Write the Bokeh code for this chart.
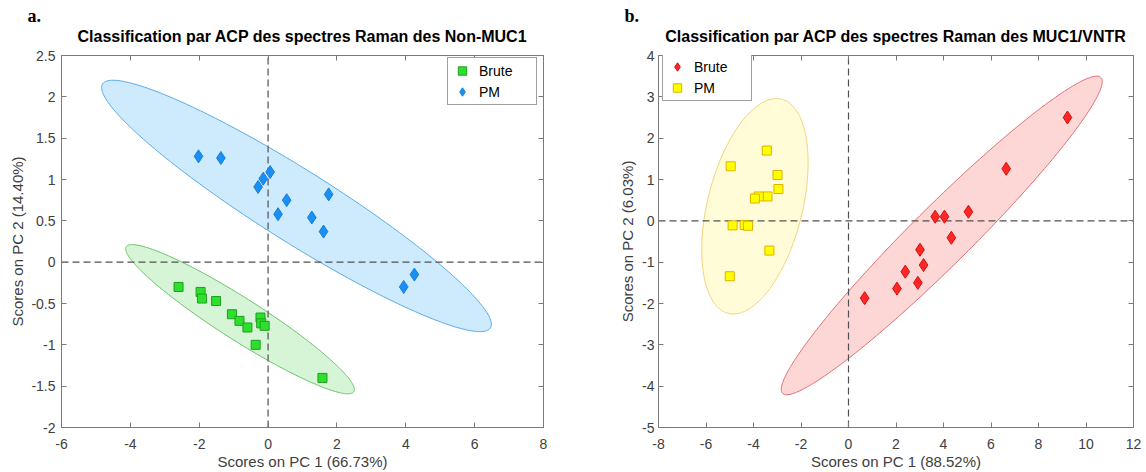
import numpy as np
from bokeh.plotting import figure
from bokeh.models import (Range1d, FixedTicker, LinearAxis, Legend, LegendItem, Title,
                          CustomLabelingPolicy)
from bokeh.layouts import row
from bokeh.embed import file_html
from bokeh.resources import INLINE

# ---------------- data : panel a (Non-MUC1) ----------------
a_brute_x = [-2.60, -1.96, -1.92, -1.51, -1.05, -0.83, -0.60, -0.22, -0.20, -0.10, -0.36, 1.58]
a_brute_y = [-0.30, -0.36, -0.44, -0.47, -0.63, -0.71, -0.79, -0.67, -0.74, -0.77, -1.00, -1.40]
a_pm_x = [-2.02, -1.37, 0.06, -0.14, -0.29, 0.54, 1.76, 0.29, 1.27, 1.61, 4.25, 3.94]
a_pm_y = [1.28, 1.26, 1.09, 1.01, 0.91, 0.75, 0.82, 0.58, 0.54, 0.37, -0.15, -0.30]

# ---------------- data : panel b (MUC1/VNTR) ----------------
b_brute_x = [9.22, 6.64, 5.05, 3.65, 4.04, 4.33, 3.01, 3.16, 2.39, 2.92, 2.04, 0.68]
b_brute_y = [2.50, 1.26, 0.22, 0.10, 0.10, -0.41, -0.70, -1.07, -1.23, -1.50, -1.64, -1.87]
b_pm_x = [-3.44, -4.96, -2.99, -2.95, -3.41, -3.78, -3.94, -4.88, -4.37, -4.23, -3.33, -5.00]
b_pm_y = [1.70, 1.32, 1.11, 0.77, 0.59, 0.59, 0.54, -0.11, -0.10, -0.12, -0.72, -1.34]

# ---------------- axes / ticks ----------------
a_xticks = [-6, -4, -2, 0, 2, 4, 6, 8]
a_xlabels = ["-6", "-4", "-2", "0", "2", "4", "6", "8"]
a_yticks = [-2, -1.5, -1, -0.5, 0, 0.5, 1, 1.5, 2, 2.5]
a_ylabels = ["-2", "-1.5", "-1", "-0.5", "0", "0.5", "1", "1.5", "2", "2.5"]
b_xticks = [-8, -6, -4, -2, 0, 2, 4, 6, 8, 10, 12]
b_xlabels = ["-8", "-6", "-4", "-2", "0", "2", "4", "6", "8", "10", "12"]
b_yticks = [-5, -4, -3, -2, -1, 0, 1, 2, 3, 4]
b_ylabels = ["-5", "-4", "-3", "-2", "-1", "0", "1", "2", "3", "4"]

CONF_SCALE = 3.0  # confidence ellipse scale (std units)

FONT = "Liberation Sans"
AX_COLOR = "#7a7a7a"
TXT_COLOR = "#404040"
NO_LABELS = "for (const i of indices) { indices.unset(i) }; return indices"


def conf_ellipse(xs, ys, k=CONF_SCALE, n=300):
    x = np.asarray(xs, float)
    y = np.asarray(ys, float)
    vals, vecs = np.linalg.eigh(np.cov(x, y))
    t = np.linspace(0, 2 * np.pi, n)
    circ = np.vstack([np.cos(t), np.sin(t)]) * (k * np.sqrt(vals))[:, None]
    pts = vecs @ circ
    return x.mean() + pts[0], y.mean() + pts[1]


def make_panel(width, xticks, xlabels, yticks, ylabels, bl, br, bt, bb,
               xlab, ylab, ylab_standoff, ytick_standoff, xtick_standoff, title, letter):
    p = figure(width=width, height=472, output_backend="svg", toolbar_location=None,
               x_range=Range1d(xticks[0], xticks[-1]), y_range=Range1d(yticks[0], yticks[-1]),
               min_border_left=bl, min_border_right=br, min_border_top=bt, min_border_bottom=bb,
               x_axis_type=None, y_axis_type=None)
    p.grid.visible = False
    p.outline_line_color = AX_COLOR
    p.outline_line_width = 1
    p.background_fill_color = "white"
    p.border_fill_color = "white"

    xo = {float(t): l for t, l in zip(xticks, xlabels)}
    yo = {float(t): l for t, l in zip(yticks, ylabels)}
    for loc in ["below", "above"]:
        ax = LinearAxis(ticker=FixedTicker(ticks=xticks), major_label_overrides=xo)
        ax.major_tick_in = 5
        ax.major_tick_out = 0
        ax.minor_tick_line_color = None
        ax.axis_line_color = None
        ax.major_tick_line_color = AX_COLOR
        if loc == "below":
            ax.axis_label = xlab
            ax.axis_label_text_font = FONT
            ax.axis_label_text_font_size = "15px"
            ax.axis_label_text_font_style = "normal"
            ax.axis_label_text_color = TXT_COLOR
            ax.axis_label_standoff = 1
            ax.major_label_text_font = FONT
            ax.major_label_text_font_size = "14px"
            ax.major_label_text_color = TXT_COLOR
            ax.major_label_standoff = xtick_standoff
        else:
            ax.major_label_policy = CustomLabelingPolicy(code=NO_LABELS)
            ax.major_label_standoff = 0
        p.add_layout(ax, loc)
    for loc in ["left", "right"]:
        ax = LinearAxis(ticker=FixedTicker(ticks=yticks), major_label_overrides=yo)
        ax.major_tick_in = 5
        ax.major_tick_out = 0
        ax.minor_tick_line_color = None
        ax.axis_line_color = None
        ax.major_tick_line_color = AX_COLOR
        if loc == "left":
            ax.axis_label = ylab
            ax.axis_label_text_font = FONT
            ax.axis_label_text_font_size = "15px"
            ax.axis_label_text_font_style = "normal"
            ax.axis_label_text_color = TXT_COLOR
            ax.axis_label_standoff = ylab_standoff
            ax.major_label_text_font = FONT
            ax.major_label_text_font_size = "14px"
            ax.major_label_text_color = TXT_COLOR
            ax.major_label_standoff = ytick_standoff
        else:
            ax.major_label_policy = CustomLabelingPolicy(code=NO_LABELS)
            ax.major_label_standoff = 0
        p.add_layout(ax, loc)

    p.add_layout(Title(text=title, align="center", text_font=FONT, text_font_size="16px",
                       text_font_style="bold", text_color="black", standoff=0), "above")
    p.add_layout(Title(text=letter, align="left", offset=-34, text_font="Liberation Serif",
                       text_font_size="18px", text_font_style="bold", text_color="black",
                       standoff=0), "above")
    return p


def ref_lines(p, xticks, yticks):
    kw = dict(line_color="#505050", line_width=1.2, line_dash="7 4")
    p.segment(x0=[xticks[0]], x1=[xticks[-1]], y0=[0], y1=[0], **kw)
    p.segment(x0=[0], x1=[0], y0=[yticks[0]], y1=[yticks[-1]], **kw)


# ---------------- panel a ----------------
pa = make_panel(575, a_xticks, a_xlabels, a_yticks, a_ylabels, 61, 32, 55, 44,
                "Scores on PC 1 (66.73%)", "Scores on PC 2 (14.40%)", 2, 6, 11,
                "Classification par ACP des spectres Raman des Non-MUC1", "a.")

ex, ey = conf_ellipse(a_pm_x, a_pm_y)
pa.patch(ex, ey, fill_color="#0a96f5", fill_alpha=0.2, line_color="#5aaae6", line_width=1)
ex, ey = conf_ellipse(a_brute_x, a_brute_y)
pa.patch(ex, ey, fill_color="#33cc33", fill_alpha=0.2, line_color="#6cc06c", line_width=1)
ref_lines(pa, a_xticks, a_yticks)
ra1 = pa.scatter(a_brute_x, a_brute_y, marker="square", size=9, fill_color="#2ee02e",
                 line_color="#1f9e1f", line_width=1)
ra2 = pa.scatter(a_pm_x, a_pm_y, marker="diamond", size=13, fill_color="#1a8ff5",
                 line_color="#1a7fd6", line_width=1)
lega = Legend(items=[LegendItem(label="Brute", renderers=[ra1]),
                     LegendItem(label="PM", renderers=[ra2])],
              location=(386, 322))
pa.add_layout(lega, "center")

# ---------------- panel b ----------------
pb = make_panel(571, b_xticks, b_xlabels, b_yticks, b_ylabels, 83, 11, 54, 42,
                "Scores on PC 1 (88.52%)", "Scores on PC 2 (6.03%)", 3, 4, 11,
                "Classification par ACP des spectres Raman des MUC1/VNTR", "b.")

ex, ey = conf_ellipse(b_brute_x, b_brute_y)
pb.patch(ex, ey, fill_color="#f53030", fill_alpha=0.2, line_color="#e07070", line_width=1)
ex, ey = conf_ellipse(b_pm_x, b_pm_y)
pb.patch(ex, ey, fill_color="#fff04a", fill_alpha=0.22, line_color="#f2d27a", line_width=1)
ref_lines(pb, b_xticks, b_yticks)
rb1 = pb.scatter(b_brute_x, b_brute_y, marker="diamond", size=13, fill_color="#ff2626",
                 line_color="#d01010", line_width=1)
rb2 = pb.scatter(b_pm_x, b_pm_y, marker="square", size=9, fill_color="#ffff00",
                 line_color="#e0b000", line_width=1)
legb = Legend(items=[LegendItem(label="Brute", renderers=[rb1]),
                     LegendItem(label="PM", renderers=[rb2])],
              location=(4, 326))
pb.add_layout(legb, "center")

for lg in (lega, legb):
    lg.label_text_font = FONT
    lg.label_text_font_size = "14px"
    lg.label_text_color = "black"
    lg.border_line_color = "#404040"
    lg.border_line_width = 1
    lg.background_fill_color = "white"
    lg.background_fill_alpha = 1
    lg.padding = 2
    lg.spacing = -4
    lg.margin = 0
    lg.label_height = 21
    lg.glyph_height = 21
    lg.glyph_width = 24
    lg.label_standoff = 5
    lg.label_width = 55

layout = row(pa, pb)
open("out.html", "w").write(file_html(layout, INLINE))
